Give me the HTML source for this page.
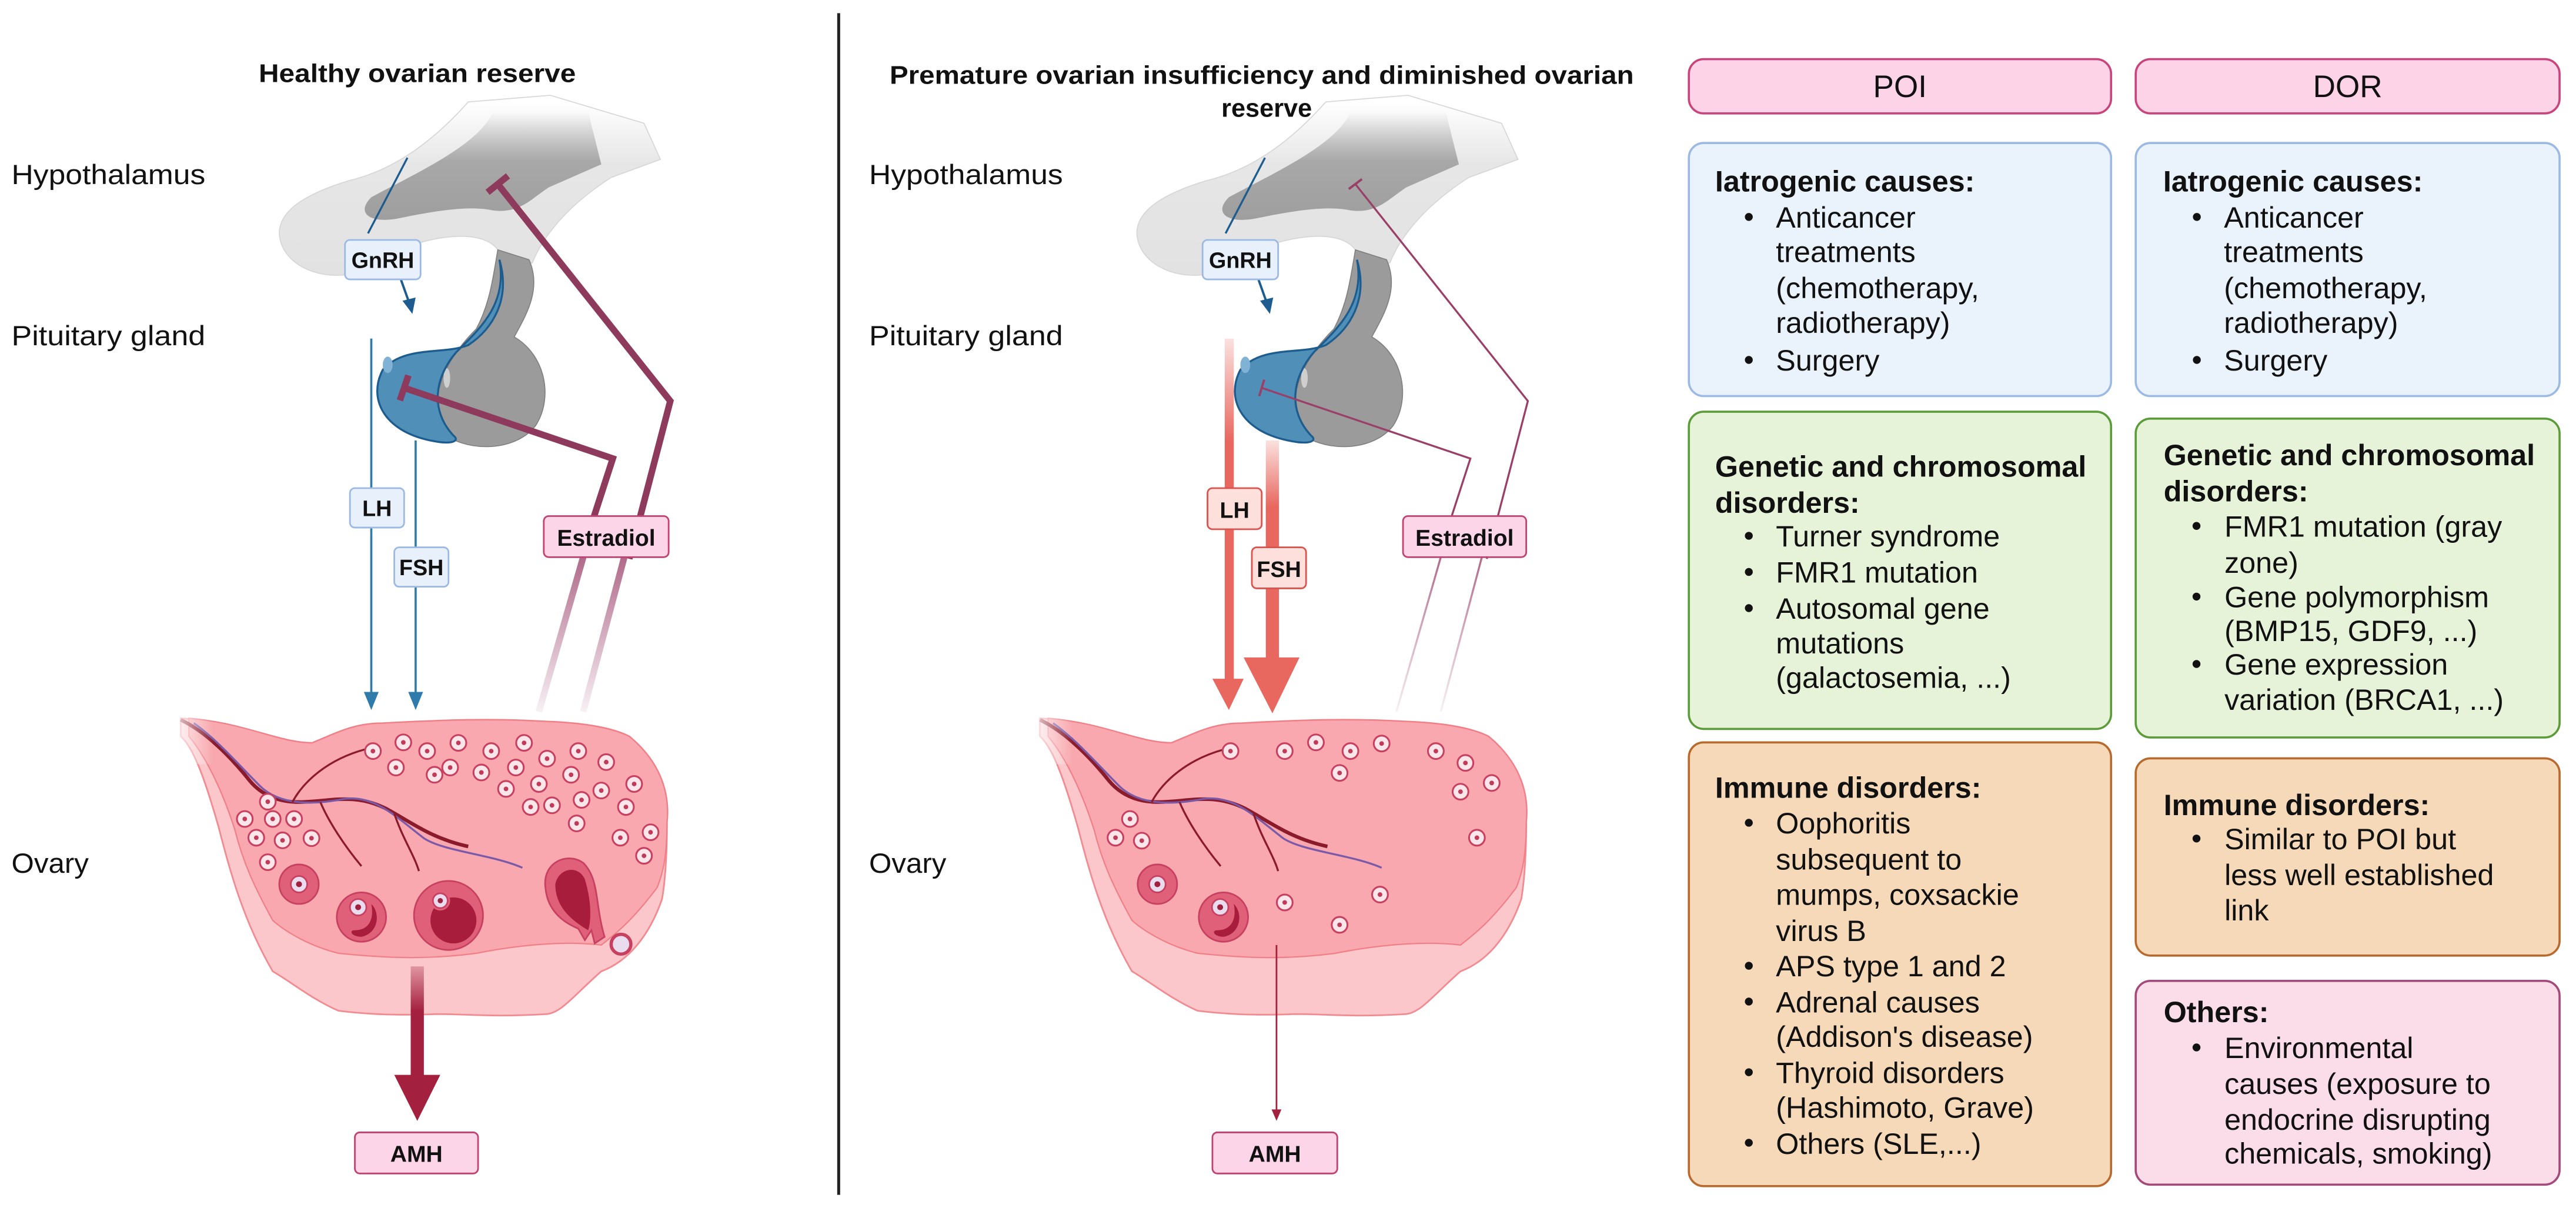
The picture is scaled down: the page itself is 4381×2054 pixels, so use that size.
<!DOCTYPE html>
<html><head><meta charset="utf-8"><style>
html,body{margin:0;padding:0;background:#fff;}
svg{display:block;}
text{font-family:"Liberation Sans",sans-serif;fill:#111;}
.lab{font-size:17px;}
.t{font-size:18px;}
.b{font-size:18px;font-weight:bold;}
</style></head><body>
<svg width="4381" height="2054" viewBox="0 0 1568 735" preserveAspectRatio="none" xmlns="http://www.w3.org/2000/svg">
<defs>
<linearGradient id="hyp" gradientUnits="userSpaceOnUse" x1="0" y1="62" x2="0" y2="170">
<stop offset="0" stop-color="#e6e6e6" stop-opacity="0"/><stop offset="0.35" stop-color="#e6e6e6"/><stop offset="1" stop-color="#e2e2e2"/></linearGradient>
<linearGradient id="hypd" gradientUnits="userSpaceOnUse" x1="0" y1="68" x2="0" y2="135">
<stop offset="0" stop-color="#a8a8a8" stop-opacity="0"/><stop offset="0.45" stop-color="#a8a8a8"/><stop offset="1" stop-color="#9e9e9e"/></linearGradient>
<linearGradient id="fadeM" x1="0" y1="0" x2="0" y2="1">
<stop offset="0" stop-color="#b06a8a"/><stop offset="1" stop-color="#b06a8a" stop-opacity="0.1"/></linearGradient>
<linearGradient id="redfade" x1="0" y1="0" x2="0" y2="1">
<stop offset="0" stop-color="#e8685f" stop-opacity="0.2"/><stop offset="0.3" stop-color="#e8685f"/><stop offset="1" stop-color="#e8685f"/></linearGradient>
<linearGradient id="amhfade" x1="0" y1="0" x2="0" y2="1">
<stop offset="0" stop-color="#a3203f" stop-opacity="0.3"/><stop offset="0.4" stop-color="#a3203f"/></linearGradient>
<linearGradient id="tubefade" x1="0" y1="0" x2="1" y2="0">
<stop offset="0" stop-color="#fff" stop-opacity="1"/><stop offset="1" stop-color="#fff" stop-opacity="0"/></linearGradient>
<g id="brain">
<path d="M285,62 C262,88 238,104 212,110 C186,118 170,128 170,142 C171,160 192,170 212,167 C228,164 238,151 262,146 C285,141 298,145 303,152 L312,162 L324,160 C330,145 344,126 372,108 L402,97 L392,75 L335,58 Z" fill="url(#hyp)" stroke="#d6d6d6" stroke-width="0.6"/>
<path d="M300,68 C292,88 252,106 226,120 C216,130 226,136 242,133 C266,128 286,125 300,128 C316,130 322,122 334,114 L366,100 L358,68 Z" fill="url(#hypd)"/>
<path d="M303,152 L322,158 C330,176 320,192 313,205 C332,216 337,242 326,259 C313,276 281,275 268,262 C262,240 270,220 290,200 C298,185 300,170 303,152 Z" fill="#9b9b9b" stroke="#808080" stroke-width="0.6"/>
<ellipse cx="272" cy="230" rx="2" ry="6" fill="#cfcfcf"/>
<path d="M304,158 C311,182 300,200 285,210 C270,216 246,210 233,225 C224,242 233,262 262,268 C276,271 280,268 276,265 C262,250 264,230 278,214 C292,200 309,185 304,158 Z" fill="#4f8fb8" stroke="#1d5c8e" stroke-width="1.2"/>
<ellipse cx="236" cy="222" rx="3" ry="5" fill="#7fb2d4"/>
</g>
<g id="ovary">
<path d="M110,437 C150,440 170,452 190,452 C205,446 215,440 233,440 C270,438 300,437 333,439 C360,440 375,444 383,448 C400,462 408,480 406,500 C406,520 405,535 403,547 C395,570 382,585 366,591 C350,605 342,616 333,617 C300,619 285,617 266,617 C240,618 222,617 206,615 C190,608 178,598 166,591 C148,560 140,530 133,503 C125,475 118,455 110,448 Z" fill="#fbc7ca" stroke="#f28a92" stroke-width="1"/>
<path d="M115,437 C150,440 170,452 190,452 C205,446 215,440 233,440 C270,438 300,437 333,439 C360,440 375,444 383,448 C400,462 408,480 406,500 C406,520 404,530 400,540 C385,560 375,568 366,575 C340,572 310,576 290,580 C260,584 235,583 206,580 C190,576 175,568 166,560 C155,540 148,525 143,505 C135,480 125,460 115,448 Z" fill="#f8a8ae" stroke="#f07f88" stroke-width="0.8"/>
<path d="M110,438 C125,445 140,460 152,475 C162,487 175,488 182,488 C200,488 215,482 235,492 C250,500 262,510 285,515" fill="none" stroke="#8b1a2b" stroke-width="2.2"/>
<path d="M118,440 C132,450 145,465 158,478 C170,490 190,490 210,486 C228,484 240,496 258,510 C270,518 300,520 318,528" fill="none" stroke="#7a5aa8" stroke-width="1.2"/>
<path d="M178,488 C185,475 200,462 222,456 M195,488 C200,500 210,515 220,527 M240,495 C245,510 252,520 255,530" fill="none" stroke="#8b1a2b" stroke-width="1.2"/>
<rect x="100" y="425" width="30" height="40" fill="url(#tubefade)"/>
</g>
<g id="fol"><circle r="4.8" fill="#fce6ea" stroke="#c8405f" stroke-width="1.1"/><circle r="1.4" fill="#c03a5a"/></g>
</defs>

<line x1="510.5" y1="8" x2="510.5" y2="727" stroke="#222" stroke-width="1.8"/>

<text x="254" y="50" text-anchor="middle" font-size="15.5" font-weight="bold" textLength="193" lengthAdjust="spacingAndGlyphs">Healthy ovarian reserve</text>
<text x="768" y="51" text-anchor="middle" font-size="15.5" font-weight="bold" textLength="453" lengthAdjust="spacingAndGlyphs">Premature ovarian insufficiency and diminished ovarian</text>
<text x="771" y="71" text-anchor="middle" font-size="15.5" font-weight="bold">reserve</text>

<text class="lab" x="7" y="112" textLength="118" lengthAdjust="spacingAndGlyphs">Hypothalamus</text>
<text class="lab" x="7" y="210" textLength="118" lengthAdjust="spacingAndGlyphs">Pituitary gland</text>
<text class="lab" x="7" y="531" textLength="47" lengthAdjust="spacingAndGlyphs">Ovary</text>
<text class="lab" x="529" y="112" textLength="118" lengthAdjust="spacingAndGlyphs">Hypothalamus</text>
<text class="lab" x="529" y="210" textLength="118" lengthAdjust="spacingAndGlyphs">Pituitary gland</text>
<text class="lab" x="529" y="531" textLength="47" lengthAdjust="spacingAndGlyphs">Ovary</text>

<!-- LEFT PANEL -->
<use href="#brain"/>
<use href="#ovary"/>
<line x1="248" y1="96" x2="224" y2="142" stroke="#1d5c8e" stroke-width="1.2"/>
<line x1="244" y1="170" x2="249" y2="184" stroke="#1d5c8e" stroke-width="1.4"/>
<polygon points="245,183 253,181 251,191" fill="#1d5c8e"/>
<rect x="210" y="146" width="46" height="24" rx="3" fill="#e8f1fb" stroke="#9bb9e3" stroke-width="1"/>
<text x="233" y="163" text-anchor="middle" font-size="13.5" font-weight="bold">GnRH</text>
<line x1="226" y1="206" x2="226" y2="424" stroke="#2f7bab" stroke-width="1.3"/>
<line x1="253" y1="268" x2="253" y2="424" stroke="#2f7bab" stroke-width="1.3"/>
<polygon points="221.5,421 230.5,421 226,432" fill="#2f7bab"/>
<polygon points="248.5,421 257.5,421 253,432" fill="#2f7bab"/>
<rect x="213" y="297" width="33" height="24" rx="3" fill="#e8f1fb" stroke="#9bb9e3" stroke-width="1"/>
<text x="229.5" y="314" text-anchor="middle" font-size="13.5" font-weight="bold">LH</text>
<rect x="240" y="333" width="33" height="24" rx="3" fill="#e8f1fb" stroke="#9bb9e3" stroke-width="1"/>
<text x="256.5" y="350" text-anchor="middle" font-size="13.5" font-weight="bold">FSH</text>
<polyline points="303,112 408,244 383,340" fill="none" stroke="#8e3a5c" stroke-width="4"/>
<polyline points="246,236 373,279 361,316" fill="none" stroke="#8e3a5c" stroke-width="4"/>
<line x1="296.8" y1="117" x2="309.2" y2="107" stroke="#8e3a5c" stroke-width="4"/>
<line x1="248.6" y1="228.4" x2="243.4" y2="243.6" stroke="#8e3a5c" stroke-width="4"/>
<line x1="380" y1="339" x2="355" y2="433" stroke="url(#fadeM)" stroke-width="4"/>
<line x1="355" y1="339" x2="328" y2="433" stroke="url(#fadeM)" stroke-width="4"/>
<rect x="331" y="314" width="76" height="25" rx="3" fill="#fcd5e8" stroke="#c2426f" stroke-width="1"/>
<text x="369" y="332" text-anchor="middle" font-size="14" font-weight="bold">Estradiol</text>
<g>
<use href="#fol" x="227" y="457"/><use href="#fol" x="245.5" y="451.7"/><use href="#fol" x="260" y="457"/><use href="#fol" x="279" y="452"/><use href="#fol" x="299" y="457"/><use href="#fol" x="319" y="452"/><use href="#fol" x="352" y="457"/><use href="#fol" x="241" y="467"/><use href="#fol" x="264.5" y="471.4"/><use href="#fol" x="274" y="467"/><use href="#fol" x="293" y="470"/><use href="#fol" x="314" y="467"/><use href="#fol" x="333" y="461.6"/><use href="#fol" x="347.6" y="471.4"/><use href="#fol" x="369" y="463.7"/><use href="#fol" x="386" y="477"/><use href="#fol" x="308" y="480"/><use href="#fol" x="328" y="477"/><use href="#fol" x="366" y="481"/><use href="#fol" x="323" y="491"/><use href="#fol" x="336" y="490"/><use href="#fol" x="354" y="486.7"/><use href="#fol" x="381" y="491"/><use href="#fol" x="351" y="501"/><use href="#fol" x="396" y="506.4"/><use href="#fol" x="377.6" y="509.7"/><use href="#fol" x="392" y="520.7"/><use href="#fol" x="163" y="487.8"/><use href="#fol" x="149" y="498.3"/><use href="#fol" x="166" y="498.3"/><use href="#fol" x="179" y="498.3"/><use href="#fol" x="156" y="509.7"/><use href="#fol" x="172" y="511.3"/><use href="#fol" x="189.6" y="510"/><use href="#fol" x="163" y="524.6"/>
</g>
<circle cx="182" cy="538" r="12" fill="#e0607a" stroke="#c8405f"/><circle cx="182" cy="538" r="5" fill="#e8dcee" stroke="#c8405f"/><circle cx="182" cy="538" r="1.8" fill="#a02040"/>
<circle cx="220" cy="558" r="15" fill="#e0607a" stroke="#c8405f"/><path d="M226,550 C232,556 230,568 220,570 C214,570 212,566 216,566 C224,566 228,560 226,550 Z" fill="#a81c3c"/><circle cx="218" cy="552" r="5" fill="#e8dcee" stroke="#c8405f"/><circle cx="218" cy="552" r="1.8" fill="#a02040"/>
<circle cx="273" cy="557" r="21" fill="#e0607a" stroke="#c8405f"/><circle cx="276" cy="560" r="14" fill="#a81c3c"/><circle cx="268" cy="548" r="6" fill="#e0607a"/><circle cx="268" cy="548" r="4.5" fill="#e8dcee" stroke="#c8405f"/><circle cx="268" cy="548" r="1.6" fill="#a02040"/>
<path d="M332,540 C330,525 345,518 355,525 C365,535 362,550 368,570 L362,574 L360,566 L356,572 L352,565 C340,560 333,552 332,540 Z" fill="#e0607a" stroke="#c8405f"/><path d="M338,538 C340,528 352,526 356,535 C360,548 360,560 358,566 C348,560 338,552 338,538 Z" fill="#a81c3c"/>
<circle cx="378" cy="574.5" r="6" fill="#e8dcee" stroke="#c8405f" stroke-width="2"/>
<rect x="250" y="588" width="8" height="68" fill="url(#amhfade)"/>
<polygon points="240,654 268,654 254,682" fill="#a3203f"/>
<rect x="216" y="689" width="75" height="25" rx="3" fill="#fcd5e8" stroke="#c2426f" stroke-width="1"/>
<text x="253.5" y="707" text-anchor="middle" font-size="14" font-weight="bold">AMH</text>

<!-- MIDDLE PANEL -->
<use href="#brain" x="522"/>
<use href="#ovary" x="523"/>
<line x1="770" y1="96" x2="746" y2="142" stroke="#1d5c8e" stroke-width="1.2"/>
<line x1="766" y1="170" x2="771" y2="184" stroke="#1d5c8e" stroke-width="1.4"/>
<polygon points="767,183 775,181 773,191" fill="#1d5c8e"/>
<rect x="732" y="146" width="46" height="24" rx="3" fill="#e8f1fb" stroke="#9bb9e3" stroke-width="1"/>
<text x="755" y="163" text-anchor="middle" font-size="13.5" font-weight="bold">GnRH</text>
<rect x="745.5" y="206" width="5.5" height="208" fill="url(#redfade)"/>
<rect x="770.5" y="268" width="8" height="134" fill="url(#redfade)"/>
<polygon points="738,413 757,413 748,432" fill="#e8685f"/>
<polygon points="757,400 791,400 774.5,434" fill="#e8685f"/>
<rect x="735" y="297" width="33" height="25" rx="3" fill="#fde0dc" stroke="#d9534f" stroke-width="1"/>
<text x="751.5" y="315" text-anchor="middle" font-size="13.5" font-weight="bold">LH</text>
<rect x="762" y="333" width="33" height="25" rx="3" fill="#fde0dc" stroke="#d9534f" stroke-width="1"/>
<text x="778.5" y="351" text-anchor="middle" font-size="13.5" font-weight="bold">FSH</text>
<polyline points="825,112 930,244 905,340" fill="none" stroke="#9a4068" stroke-width="1.2"/>
<polyline points="768,236 895,279 883,316" fill="none" stroke="#9a4068" stroke-width="1.2"/>
<line x1="821" y1="115" x2="829" y2="109" stroke="#9a4068" stroke-width="1.4"/>
<line x1="769.5" y1="231" x2="766.5" y2="241" stroke="#9a4068" stroke-width="1.4"/>
<line x1="902" y1="339" x2="877" y2="433" stroke="url(#fadeM)" stroke-width="1.2"/>
<line x1="877" y1="339" x2="850" y2="433" stroke="url(#fadeM)" stroke-width="1.2"/>
<rect x="854" y="314" width="75" height="25" rx="3" fill="#fcd5e8" stroke="#c2426f" stroke-width="1"/>
<text x="891.5" y="332" text-anchor="middle" font-size="14" font-weight="bold">Estradiol</text>
<g>
<use href="#fol" x="749" y="457"/><use href="#fol" x="782" y="457"/><use href="#fol" x="801" y="451.7"/><use href="#fol" x="822" y="457"/><use href="#fol" x="841" y="452.4"/><use href="#fol" x="874" y="457"/><use href="#fol" x="892" y="464.2"/><use href="#fol" x="815.4" y="470.3"/><use href="#fol" x="908" y="476.4"/><use href="#fol" x="889" y="481.7"/><use href="#fol" x="899" y="509.7"/><use href="#fol" x="687.8" y="498.3"/><use href="#fol" x="679" y="509.7"/><use href="#fol" x="695" y="511.5"/><use href="#fol" x="782" y="549.1"/><use href="#fol" x="840" y="544.3"/><use href="#fol" x="815.4" y="562.7"/>
</g>
<circle cx="704.5" cy="538" r="12" fill="#e0607a" stroke="#c8405f"/><circle cx="704.5" cy="538" r="5" fill="#e8dcee" stroke="#c8405f"/><circle cx="704.5" cy="538" r="1.8" fill="#a02040"/>
<circle cx="744.7" cy="558" r="15" fill="#e0607a" stroke="#c8405f"/><path d="M751,550 C757,556 755,568 745,570 C739,570 737,566 741,566 C749,566 753,560 751,550 Z" fill="#a81c3c"/><circle cx="742.7" cy="552" r="5" fill="#e8dcee" stroke="#c8405f"/><circle cx="742.7" cy="552" r="1.8" fill="#a02040"/>
<line x1="777" y1="575" x2="777" y2="676" stroke="#a3203f" stroke-width="1"/>
<polygon points="774,675 780,675 777,682" fill="#a3203f"/>
<rect x="738" y="689" width="76" height="25" rx="3" fill="#fcd5e8" stroke="#c2426f" stroke-width="1"/>
<text x="776" y="707" text-anchor="middle" font-size="14" font-weight="bold">AMH</text>

<!-- RIGHT PANEL -->
<rect x="1028" y="36" width="257" height="33" rx="9" fill="#fdd3e8" stroke="#c9447a" stroke-width="1.3"/>
<text x="1156.5" y="59" text-anchor="middle" font-size="19">POI</text>
<rect x="1300" y="36" width="258" height="33" rx="9" fill="#fdd3e8" stroke="#c9447a" stroke-width="1.3"/>
<text x="1429" y="59" text-anchor="middle" font-size="19">DOR</text>

<rect x="1028" y="87" width="257" height="154" rx="9" fill="#eaf2fb" stroke="#9bb9e3" stroke-width="1.3"/>
<rect x="1300" y="87" width="258" height="154" rx="9" fill="#eaf2fb" stroke="#9bb9e3" stroke-width="1.3"/>
<g>
<text class="b" x="1044" y="116.5">Iatrogenic causes:</text>
<circle cx="1064.5" cy="132" r="2.4" fill="#111"/>
<text class="t" x="1081" y="138.5">Anticancer</text>
<text class="t" x="1081" y="159.5">treatments</text>
<text class="t" x="1081" y="181.5">(chemotherapy,</text>
<text class="t" x="1081" y="202.5">radiotherapy)</text>
<circle cx="1064.5" cy="219" r="2.4" fill="#111"/>
<text class="t" x="1081" y="225.5">Surgery</text>
</g>
<g transform="translate(272.7,0)">
<text class="b" x="1044" y="116.5">Iatrogenic causes:</text>
<circle cx="1064.5" cy="132" r="2.4" fill="#111"/>
<text class="t" x="1081" y="138.5">Anticancer</text>
<text class="t" x="1081" y="159.5">treatments</text>
<text class="t" x="1081" y="181.5">(chemotherapy,</text>
<text class="t" x="1081" y="202.5">radiotherapy)</text>
<circle cx="1064.5" cy="219" r="2.4" fill="#111"/>
<text class="t" x="1081" y="225.5">Surgery</text>
</g>

<rect x="1028" y="250.5" width="257" height="193" rx="9" fill="#e6f3d9" stroke="#5c9b3a" stroke-width="1.3"/>
<rect x="1300" y="254.7" width="258" height="194" rx="9" fill="#e6f3d9" stroke="#5c9b3a" stroke-width="1.3"/>
<text class="b" x="1044" y="290">Genetic and chromosomal</text>
<text class="b" x="1044" y="312">disorders:</text>
<circle cx="1064.5" cy="326" r="2.4" fill="#111"/><text class="t" x="1081" y="332.5">Turner syndrome</text>
<circle cx="1064.5" cy="348" r="2.4" fill="#111"/><text class="t" x="1081" y="354.5">FMR1 mutation</text>
<circle cx="1064.5" cy="370" r="2.4" fill="#111"/><text class="t" x="1081" y="376.5">Autosomal gene</text>
<text class="t" x="1081" y="397.5">mutations</text>
<text class="t" x="1081" y="418.5">(galactosemia, ...)</text>

<text class="b" x="1317" y="283">Genetic and chromosomal</text>
<text class="b" x="1317" y="305">disorders:</text>
<circle cx="1337" cy="320" r="2.4" fill="#111"/><text class="t" x="1354" y="326.5">FMR1 mutation (gray</text>
<text class="t" x="1354" y="348.5">zone)</text>
<circle cx="1337" cy="363" r="2.4" fill="#111"/><text class="t" x="1354" y="369.5">Gene polymorphism</text>
<text class="t" x="1354" y="390">(BMP15, GDF9, ...)</text>
<circle cx="1337" cy="404" r="2.4" fill="#111"/><text class="t" x="1354" y="410.5">Gene expression</text>
<text class="t" x="1354" y="432">variation (BRCA1, ...)</text>

<rect x="1028" y="451.7" width="257" height="270" rx="9" fill="#f5d9b8" stroke="#b8692d" stroke-width="1.3"/>
<text class="b" x="1044" y="485.5">Immune disorders:</text>
<circle cx="1064.5" cy="500.6" r="2.4" fill="#111"/><text class="t" x="1081" y="507">Oophoritis</text>
<text class="t" x="1081" y="529">subsequent to</text>
<text class="t" x="1081" y="550.5">mumps, coxsackie</text>
<text class="t" x="1081" y="572.5">virus B</text>
<circle cx="1064.5" cy="587.6" r="2.4" fill="#111"/><text class="t" x="1081" y="594">APS type 1 and 2</text>
<circle cx="1064.5" cy="609.4" r="2.4" fill="#111"/><text class="t" x="1081" y="616">Adrenal causes</text>
<text class="t" x="1081" y="637">(Addison's disease)</text>
<circle cx="1064.5" cy="652.4" r="2.4" fill="#111"/><text class="t" x="1081" y="659">Thyroid disorders</text>
<text class="t" x="1081" y="680">(Hashimoto, Grave)</text>
<circle cx="1064.5" cy="695.3" r="2.4" fill="#111"/><text class="t" x="1081" y="702">Others (SLE,...)</text>

<rect x="1300" y="461.4" width="258" height="120" rx="9" fill="#f5d9b8" stroke="#b8692d" stroke-width="1.3"/>
<text class="b" x="1317" y="496">Immune disorders:</text>
<circle cx="1337" cy="510.2" r="2.4" fill="#111"/><text class="t" x="1354" y="516.7">Similar to POI but</text>
<text class="t" x="1354" y="538.5">less well established</text>
<text class="t" x="1354" y="560">link</text>

<rect x="1300" y="596.8" width="258" height="124" rx="9" fill="#fbdde9" stroke="#a44a7a" stroke-width="1.3"/>
<text class="b" x="1317" y="622">Others:</text>
<circle cx="1337" cy="637.3" r="2.4" fill="#111"/><text class="t" x="1354" y="643.8">Environmental</text>
<text class="t" x="1354" y="665.6">causes (exposure to</text>
<text class="t" x="1354" y="687.4">endocrine disrupting</text>
<text class="t" x="1354" y="708">chemicals, smoking)</text>
</svg>
</body></html>
